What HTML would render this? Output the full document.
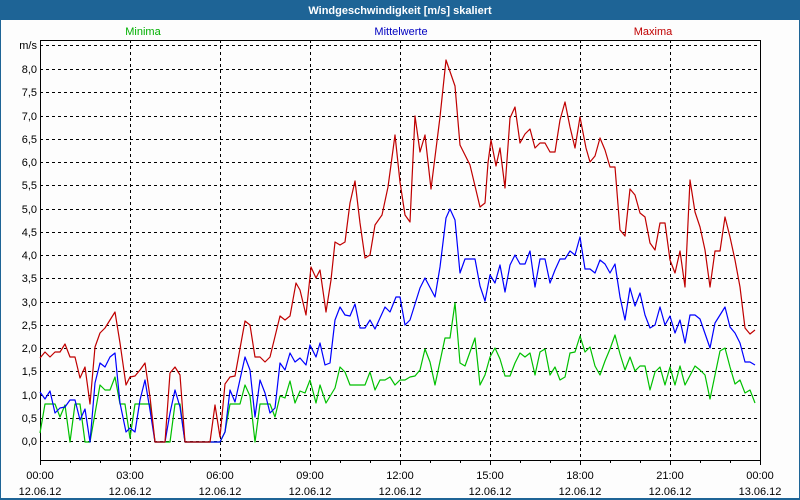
<!DOCTYPE html>
<html><head><meta charset="utf-8"><style>
html,body{margin:0;padding:0;width:800px;height:500px;overflow:hidden;background:#fff}
svg{display:block}
text{font-family:"Liberation Sans",sans-serif;font-size:11px}
</style></head><body>
<svg width="800" height="500" viewBox="0 0 800 500" xmlns="http://www.w3.org/2000/svg">
<rect x="0" y="0" width="800" height="500" fill="#1e6496"/>
<rect x="1" y="20" width="798" height="478" fill="#fdfdfd"/>
<text x="400" y="14" text-anchor="middle" fill="#fff" font-weight="bold">Windgeschwindigkeit [m/s] skaliert</text>
<text x="143" y="35" text-anchor="middle" fill="#00b000">Minima</text>
<text x="401" y="35" text-anchor="middle" fill="#0000c0">Mittelwerte</text>
<text x="653" y="35" text-anchor="middle" fill="#c00000">Maxima</text>
<g stroke="#000" stroke-width="1" stroke-dasharray="3,3" shape-rendering="crispEdges">
<path d="M40 45.5H760M40 69.5H760M40 92.5H760M40 116.5H760M40 139.5H760M40 162.5H760M40 185.5H760M40 209.5H760M40 232.5H760M40 255.5H760M40 278.5H760M40 302.5H760M40 325.5H760M40 348.5H760M40 371.5H760M40 395.5H760M40 418.5H760M40 441.5H760"/>
<path d="M130.5 40V460M220.5 40V460M310.5 40V460M400.5 40V460M490.5 40V460M580.5 40V460M670.5 40V460"/>
</g>
<g stroke="#000" fill="none" shape-rendering="crispEdges">
<rect x="40.5" y="40.5" width="720" height="420"/>
<path d="M40.5 460V465M70.5 460V463M100.5 460V463M130.5 460V465M160.5 460V463M190.5 460V463M220.5 460V465M250.5 460V463M280.5 460V463M310.5 460V465M340.5 460V463M370.5 460V463M400.5 460V465M430.5 460V463M460.5 460V463M490.5 460V465M520.5 460V463M550.5 460V463M580.5 460V465M610.5 460V463M640.5 460V463M670.5 460V465M700.5 460V463M730.5 460V463M760.5 460V465"/>
</g>
<g fill="#000" text-anchor="end">
<text x="37" y="49">m/s</text><text x="37" y="73">8,0</text><text x="37" y="96">7,5</text><text x="37" y="120">7,0</text><text x="37" y="143">6,5</text><text x="37" y="166">6,0</text><text x="37" y="189">5,5</text><text x="37" y="213">5,0</text><text x="37" y="236">4,5</text><text x="37" y="259">4,0</text><text x="37" y="282">3,5</text><text x="37" y="306">3,0</text><text x="37" y="329">2,5</text><text x="37" y="352">2,0</text><text x="37" y="375">1,5</text><text x="37" y="399">1,0</text><text x="37" y="422">0,5</text><text x="37" y="445">0,0</text>
</g>
<g fill="#000" text-anchor="middle">
<text x="40" y="479">00:00</text><text x="40" y="495">12.06.12</text>
<text x="130" y="479">03:00</text><text x="130" y="495">12.06.12</text>
<text x="220" y="479">06:00</text><text x="220" y="495">12.06.12</text>
<text x="310" y="479">09:00</text><text x="310" y="495">12.06.12</text>
<text x="400" y="479">12:00</text><text x="400" y="495">12.06.12</text>
<text x="490" y="479">15:00</text><text x="490" y="495">12.06.12</text>
<text x="580" y="479">18:00</text><text x="580" y="495">12.06.12</text>
<text x="670" y="479">21:00</text><text x="670" y="495">12.06.12</text>
<text x="760" y="479">00:00</text><text x="760" y="495">13.06.12</text>
</g>
<g fill="none" stroke-width="1.2" stroke-linejoin="round">
<polyline stroke="#00c000" points="40,433 45,404 50,404 55,404 60,417 65,405 70,442 75,404 80,404 85,442 90,442 100,385 105,390 110,390 115,377 120,404 125,404 130,438 135,404 140,404 145,404 150,404 155,442 170,442 175,404 180,404 185,442 220,442 225,432 230,404 240,404 245,385 250,396 255,442 260,404 270,404 275,417 280,396 285,398 290,381 295,403 300,391 305,393 310,380 316,403 320,385 326,403 335,388 340,367 345,372 350,385 365,385 370,372 375,390 380,380 385,380 390,377 395,385 400,380 405,380 410,377 415,376 420,370 425,349 430,362 435,385 445,338 450,338 455,303 460,363 465,366 475,338 480,385 485,375 490,357 495,348 500,359 505,376 510,376 515,363 520,353 525,357 530,353 535,375 540,352 545,349 550,375 555,367 560,380 565,377 570,353 575,352 580,336 585,352 590,347 595,366 600,375 605,361 610,349 615,335 620,354 625,370 630,357 635,371 640,366 645,366 650,390 655,372 660,367 665,385 670,367 675,385 680,366 685,385 695,366 700,370 705,375 710,399 715,375 720,351 725,348 730,367 735,384 740,380 745,393 750,390 755,403"/>
<polyline stroke="#0000ff" points="40,392 45,399 50,391 55,413 60,408 65,407 70,400 75,400 80,420 85,409 90,442 95,383 100,363 105,367 110,357 115,353 120,403 126,432 130,428 135,432 140,400 145,380 150,410 155,442 165,442 170,413 175,390 180,407 185,442 220,442 225,432 230,390 235,402 245,357 250,370 255,417 260,380 265,393 270,413 275,408 280,363 285,370 290,353 295,362 300,358 306,365 310,345 316,357 320,343 325,365 330,363 335,320 340,307 345,315 350,316 355,304 360,328 365,328 370,320 375,329 385,307 390,312 396,297 400,297 405,325 410,320 420,288 425,278 435,297 440,267 446,218 450,209 455,220 460,273 465,259 475,259 480,286 485,301 490,275 495,283 500,265 505,292 510,265 515,255 520,264 525,264 530,251 535,287 540,259 545,259 550,283 555,270 560,259 565,259 570,251 575,255 580,237 585,269 590,269 595,273 600,260 605,264 610,273 615,264 620,297 625,320 630,288 635,306 640,293 645,315 650,328 655,325 660,307 665,325 670,316 675,333 680,320 685,343 690,315 695,315 700,319 710,348 715,323 725,307 730,327 735,333 740,343 745,362 750,362 755,365"/>
<polyline stroke="#c00000" points="40,358 45,352 50,357 55,352 60,352 65,344 70,357 75,357 80,378 85,367 90,404 95,347 100,333 105,328 110,320 115,312 120,343 126,385 130,377 135,376 140,370 145,363 150,397 155,442 165,442 170,373 175,367 180,375 185,442 210,442 215,405 220,437 225,384 230,377 235,376 245,321 250,325 255,357 260,357 265,362 270,357 280,316 285,320 290,316 296,283 300,290 306,315 311,267 316,278 320,270 326,312 331,280 335,242 340,245 345,242 350,203 355,181 360,223 365,258 370,255 375,225 382,215 388,187 395,135 400,182 405,215 410,222 415,116 420,152 425,135 431,189 440,117 446,60 455,86 460,145 470,165 480,207 485,203 488,163 491,140 496,166 500,148 505,188 510,118 515,107 520,143 525,134 530,129 535,148 540,143 545,143 550,152 555,152 560,120 565,102 570,127 575,148 580,117 586,148 590,162 595,156 600,138 605,150 610,167 615,167 620,230 625,236 630,189 635,195 640,213 645,217 650,243 655,250 660,223 665,223 670,260 675,273 680,251 685,287 690,180 695,212 700,227 705,250 710,287 715,251 720,251 725,217 730,237 735,260 740,287 745,328 750,334 755,330"/>
</g>
</svg>
</body></html>
